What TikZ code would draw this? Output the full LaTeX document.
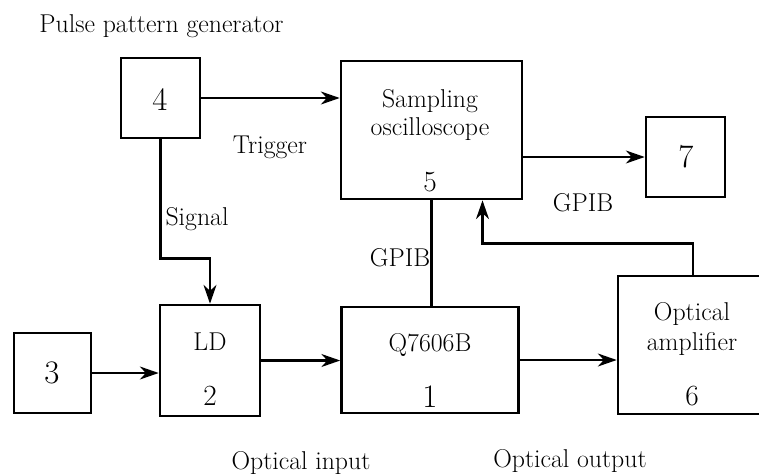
\documentclass[tikz,border=0pt]{standalone}
\usepackage{amsmath}
\usetikzlibrary{arrows.meta,calc}

\begin{document}
\begin{tikzpicture}[x=0.03cm,y=-0.03cm,
	blk/.style={draw,line width=2.2pt,inner sep=0pt},
	lbl/.style={anchor=base,inner sep=0pt,font=\fontsize{22}{24}\selectfont},
	num/.style={anchor=base,inner sep=0pt,font=\fontsize{28}{30}\selectfont},
	nums/.style={anchor=base,inner sep=0pt,font=\fontsize{25}{27}\selectfont},
	sig/.style={line width=2.2pt,-{Stealth[length=16pt,width=11pt,inset=5pt]}}]
	\clip (0,0) rectangle (759,473);
	% blocks
	\node[blk,minimum width=2.37cm,minimum height=2.4cm] (b4) at (160.5,98) {};
	\node[blk,minimum width=5.43cm,minimum height=4.14cm] (b5) at (431.5,130) {};
	\node[blk,minimum width=2.37cm,minimum height=2.4cm] (b7) at (685.5,157) {};
	\node[blk,minimum width=2.31cm,minimum height=2.4cm] (b3) at (52.5,373) {};
	\node[blk,minimum width=3cm,minimum height=3.33cm] (b2) at (210,360.5) {};
	\node[blk,minimum width=5.31cm,minimum height=3.18cm] (b1) at (430,360) {};
	\node[blk,minimum width=4.5cm,minimum height=4.14cm] (b6) at (693,345) {};
	% texts in blocks
	\node[num] (n4) at (160,110) {4};
	\node[lbl] (t5a) at (430,107) {Sampling};
	\node[lbl] (t5b) at (430,135) {oscilloscope};
	\node[nums] (n5) at (430,191) {5};
	\node[num] (n7) at (686,167) {7};
	\node[num] (n3) at (52,383) {3};
	\node[lbl] (t2) at (210,350) {LD};
	\node[nums] (n2) at (210,405) {2};
	\node[lbl] (t1) at (430,351) {Q7606B};
	\node[num] (n1) at (430,407) {1};
	\node[lbl] (t6a) at (692,320) {Optical};
	\node[lbl] (t6b) at (692,350) {amplifier};
	\node[nums] (n6) at (692,405) {6};
	% labels
	\node[lbl] (ppg) at (161.5,32) {Pulse pattern generator};
	\node[lbl] (trig) at (270,153) {Trigger};
	\node[lbl] (sgn) at (197,225) {Signal};
	\node[lbl] (gpiba) at (400,266) {GPIB};
	\node[lbl] (gpibb) at (583,211) {GPIB};
	\node[lbl] (oin) at (301,469) {Optical input};
	\node[lbl] (oout) at (570,467) {Optical output};
	% connections
	\draw[sig] (b4.east) -- (b4.east -| b5.west);
	\draw[sig] (b5.east |- b7.west) -- (b7.west);
	\draw[sig] (b4.south) -- ++(0,119) -| (b2.north);
	\draw[sig] (b3.east) -- (b3.east -| b2.west);
	\draw[sig] (b2.east) -- (b2.east -| b1.west);
	\draw[sig] (b1.east) -- (b1.east -| b6.west);
	\draw[line width=2.2pt] (b5.south) -- (b5.south |- b1.north);
	\draw[sig] (b6.north) -- ++(0,-31) -| ($(b5.south)+(51,0)$);
\end{tikzpicture}
\end{document}
